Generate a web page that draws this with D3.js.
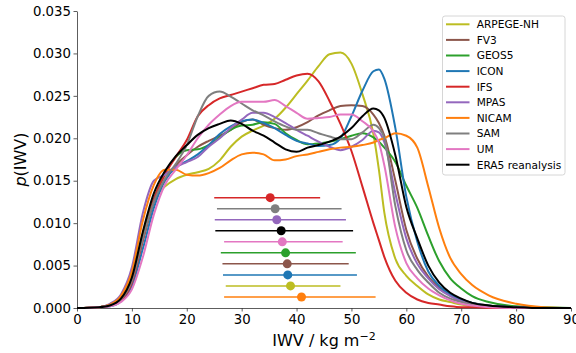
<!DOCTYPE html>
<html>
<head>
<meta charset="utf-8">
<script src="https://cdn.jsdelivr.net/npm/d3@7"></script>
<style>
  body { margin: 0; background: #fff; }
  text { font-family: "DejaVu Sans", sans-serif; fill: #000; }
</style>
</head>
<body>
<script>
// IWV grid (kg m-2) shared by all distributions
const iwv = [0, 4, 6, 8, 10, 12, 14, 16, 18, 20, 22, 24, 26, 28, 30, 32, 34, 36, 38, 40,
             42, 44, 46, 48, 50, 52, 54, 55, 56, 58, 60, 62, 64, 66, 68, 70, 72, 75, 80, 85, 90];

// p(IWV) per model
const arpege = [0, 0.0001, 0.0004, 0.0012, 0.0037, 0.0088, 0.0127, 0.0143, 0.0152, 0.0157, 0.0160, 0.0164, 0.0174, 0.0190, 0.0202, 0.0209, 0.0215, 0.0223, 0.0236, 0.0252,
                0.0268, 0.0285, 0.0299, 0.0301, 0.0288, 0.0252, 0.0205, 0.0163, 0.0112, 0.0058, 0.0038, 0.0026, 0.0016, 0.0010, 0.0007, 0.0004, 0.0002, 0.0001, 0, 0, 0];
const fv3 = [0, 0.0001, 0.0003, 0.0010, 0.0031, 0.0080, 0.0124, 0.0150, 0.0168, 0.0180, 0.0190, 0.0197, 0.0203, 0.0210, 0.0219, 0.0222, 0.0216, 0.0212, 0.0210, 0.0213,
             0.0219, 0.0227, 0.0233, 0.0238, 0.0239, 0.0238, 0.0228, 0.0218, 0.0203, 0.0150, 0.0092, 0.0058, 0.0037, 0.0024, 0.0015, 0.0009, 0.0006, 0.0003, 0.0001, 0, 0];
const geos5 = [0, 0.0001, 0.0003, 0.0010, 0.0032, 0.0082, 0.0128, 0.0158, 0.0178, 0.0186, 0.0187, 0.0192, 0.0201, 0.0210, 0.0215, 0.0216, 0.0219, 0.0217, 0.0206, 0.0198,
               0.0193, 0.0194, 0.0196, 0.0199, 0.0203, 0.0206, 0.0201, 0.0196, 0.0189, 0.0172, 0.0144, 0.0118, 0.0085, 0.0055, 0.0035, 0.0023, 0.0014, 0.0007, 0.0002, 0.0001, 0];
const icon = [0, 0.0001, 0.0002, 0.0008, 0.0026, 0.0070, 0.0118, 0.0150, 0.0166, 0.0173, 0.0181, 0.0192, 0.0205, 0.0214, 0.0220, 0.0222, 0.0218, 0.0212, 0.0204, 0.0197,
              0.0194, 0.0191, 0.0192, 0.0200, 0.0226, 0.0256, 0.0279, 0.0281, 0.0270, 0.0212, 0.0131, 0.0078, 0.0043, 0.0026, 0.0016, 0.0010, 0.0006, 0.0003, 0.0001, 0, 0];
const ifs = [0, 0.0001, 0.0003, 0.0009, 0.0030, 0.0080, 0.0128, 0.0157, 0.0178, 0.0198, 0.0226, 0.0239, 0.0247, 0.0251, 0.0255, 0.0259, 0.0263, 0.0264, 0.0269, 0.0274,
             0.0276, 0.0267, 0.0244, 0.0217, 0.0185, 0.0143, 0.0100, 0.0080, 0.0060, 0.0032, 0.0018, 0.0010, 0.0006, 0.0004, 0.0002, 0.0001, 0.0001, 0, 0, 0, 0];
const mpas = [0, 0.0001, 0.0005, 0.0016, 0.0048, 0.0112, 0.0150, 0.0157, 0.0166, 0.0172, 0.0178, 0.0190, 0.0200, 0.0212, 0.0222, 0.0230, 0.0230, 0.0225, 0.0218, 0.0210,
              0.0203, 0.0196, 0.0190, 0.0186, 0.0190, 0.0198, 0.0209, 0.0207, 0.0195, 0.0135, 0.0082, 0.0052, 0.0035, 0.0022, 0.0014, 0.0008, 0.0005, 0.0002, 0.0001, 0, 0];
const nicam = [0, 0.0001, 0.0004, 0.0014, 0.0043, 0.0103, 0.0145, 0.0163, 0.0163, 0.0157, 0.0156, 0.0159, 0.0165, 0.0174, 0.0181, 0.0183, 0.0181, 0.0174, 0.0175, 0.0179,
               0.0181, 0.0184, 0.0187, 0.0189, 0.0190, 0.0192, 0.0195, 0.0198, 0.0200, 0.0206, 0.0203, 0.0189, 0.0143, 0.0094, 0.0059, 0.0040, 0.0027, 0.0015, 0.0005, 0.0001, 0];
const sam = [0, 0.0001, 0.0003, 0.0010, 0.0032, 0.0082, 0.0125, 0.0152, 0.0170, 0.0192, 0.0226, 0.0250, 0.0255, 0.0249, 0.0241, 0.0233, 0.0227, 0.0220, 0.0214, 0.0210,
             0.0210, 0.0206, 0.0202, 0.0199, 0.0199, 0.0207, 0.0216, 0.0212, 0.0200, 0.0120, 0.0068, 0.0045, 0.0030, 0.0018, 0.0011, 0.0007, 0.0004, 0.0002, 0, 0, 0];
const um = [0, 0.0001, 0.0002, 0.0007, 0.0022, 0.0060, 0.0110, 0.0145, 0.0163, 0.0180, 0.0200, 0.0216, 0.0228, 0.0238, 0.0243, 0.0243, 0.0243, 0.0245, 0.0238, 0.0230,
            0.0223, 0.0224, 0.0225, 0.0228, 0.0228, 0.0220, 0.0208, 0.0195, 0.0168, 0.0095, 0.0053, 0.0035, 0.0023, 0.0015, 0.0009, 0.0005, 0.0003, 0.0001, 0, 0, 0];
const era5 = [0, 0.0001, 0.0003, 0.0011, 0.0036, 0.0090, 0.0135, 0.0161, 0.0179, 0.0192, 0.0204, 0.0212, 0.0217, 0.0221, 0.0217, 0.0209, 0.0203, 0.0195, 0.0187, 0.0184,
              0.0189, 0.0192, 0.0196, 0.0202, 0.0212, 0.0226, 0.0235, 0.0233, 0.0224, 0.0180, 0.0119, 0.0082, 0.0050, 0.0030, 0.0018, 0.0011, 0.0006, 0.0003, 0.0001, 0, 0];

const models = ["ARPEGE-NH", "FV3", "GEOS5", "ICON", "IFS", "MPAS", "NICAM", "SAM", "UM", "ERA5 reanalysis"];
const values = [arpege, fv3, geos5, icon, ifs, mpas, nicam, sam, um, era5];
const colors = ["#bcbd22", "#8c564b", "#2ca02c", "#1f77b4", "#d62728", "#9467bd", "#ff7f0e", "#7f7f7f", "#e377c2", "#000000"];

// spread markers: lower bound, mean, upper bound (kg m-2), same order as models
const errLow  = [27.1, 26.5, 26.2, 26.6, 25.0, 25.1, 26.8, 25.5, 26.8, 25.2];
const errMean = [38.9, 38.3, 38.0, 38.4, 35.2, 36.4, 40.9, 36.1, 37.4, 37.2];
const errHigh = [48.0, 49.5, 50.8, 51.0, 44.3, 49.0, 54.4, 48.2, 48.4, 50.3];

const xTicks = [0, 10, 20, 30, 40, 50, 60, 70, 80, 90];
const yTicks = [0, 0.005, 0.010, 0.015, 0.020, 0.025, 0.030, 0.035];

const W = 576, H = 353;
const svg = d3.select("body").append("svg")
  .attr("width", W).attr("height", H);

const x = d3.scaleLinear().domain([0, 90]).range([77, 571]);
const y = d3.scaleLinear().domain([0, 0.035]).range([308, 11]);

// axes
const gx = svg.append("g")
  .attr("transform", `translate(0,${y(0)})`)
  .call(d3.axisBottom(x).tickValues(xTicks).tickSize(3.5).tickPadding(3.5).tickSizeOuter(0));
const gy = svg.append("g")
  .attr("transform", `translate(${x(0)},0)`)
  .call(d3.axisLeft(y).tickValues(yTicks).tickFormat(d3.format(".3f")).tickSize(3.5).tickPadding(2.5).tickSizeOuter(0));
[gx, gy].forEach(g => {
  g.selectAll("text").style("font-size", "13.3px").style("font-family", "DejaVu Sans").attr("fill", "#000");
  g.selectAll("line").attr("stroke", "#333").attr("stroke-width", 0.8);
  g.select(".domain").attr("stroke", "#333").attr("stroke-width", 0.8);
});

// curves
const line = d3.line()
  .x((d, i) => x(iwv[i]))
  .y(d => y(d))
  .curve(d3.curveMonotoneX);

svg.append("g")
  .selectAll("path")
  .data(values)
  .join("path")
  .attr("d", line)
  .attr("fill", "none")
  .attr("stroke", (d, i) => colors[i])
  .attr("stroke-width", 2)
  .attr("stroke-linejoin", "round");

// spread bars, sorted by mean (smallest on top)
const order = d3.range(models.length).sort((a, b) => errMean[a] - errMean[b]);
const rowStep = 0.0013;
const bars = svg.append("g")
  .selectAll("g")
  .data(order)
  .join("g");
bars.append("line")
  .attr("x1", i => x(errLow[i]))
  .attr("x2", i => x(errHigh[i]))
  .attr("y1", (i, k) => y(rowStep * (order.length - k)))
  .attr("y2", (i, k) => y(rowStep * (order.length - k)))
  .attr("stroke", i => colors[i])
  .attr("stroke-width", 1.5);
bars.append("circle")
  .attr("cx", i => x(errMean[i]))
  .attr("cy", (i, k) => y(rowStep * (order.length - k)))
  .attr("r", 4.5)
  .attr("fill", i => colors[i]);

// axis labels
svg.append("text")
  .attr("x", (x(0) + x(90)) / 2)
  .attr("y", 345.5)
  .attr("text-anchor", "middle")
  .style("font-size", "16px")
  .call(t => {
    t.append("tspan").text("IWV / kg m");
    t.append("tspan").attr("dy", -6).style("font-size", "11px").text("\u22122");
  });

svg.append("text")
  .attr("transform", `translate(25.5,${(y(0) + y(0.035)) / 2}) rotate(-90)`)
  .attr("text-anchor", "middle")
  .style("font-size", "16px")
  .call(t => {
    t.append("tspan").style("font-style", "italic").text("p");
    t.append("tspan").text("(IWV)");
  });

// legend
const legend = svg.append("g");
legend.append("rect")
  .attr("x", 442.5).attr("y", 16)
  .attr("width", 122.5).attr("height", 159)
  .attr("rx", 2.5)
  .attr("fill", "#fff").attr("fill-opacity", 0.8)
  .attr("stroke", "#ccc").attr("stroke-width", 0.8);
const items = legend.selectAll("g.item")
  .data(models)
  .join("g")
  .attr("class", "item")
  .attr("transform", (d, i) => `translate(0,${24.3 + i * 15.6})`);
items.append("line")
  .attr("x1", 446).attr("x2", 469.5)
  .attr("stroke", (d, i) => colors[i])
  .attr("stroke-width", 2);
items.append("text")
  .attr("x", 476.7)
  .attr("dy", "0.36em")
  .style("font-size", "10.6px")
  .text(d => d);
</script>
</body>
</html>
